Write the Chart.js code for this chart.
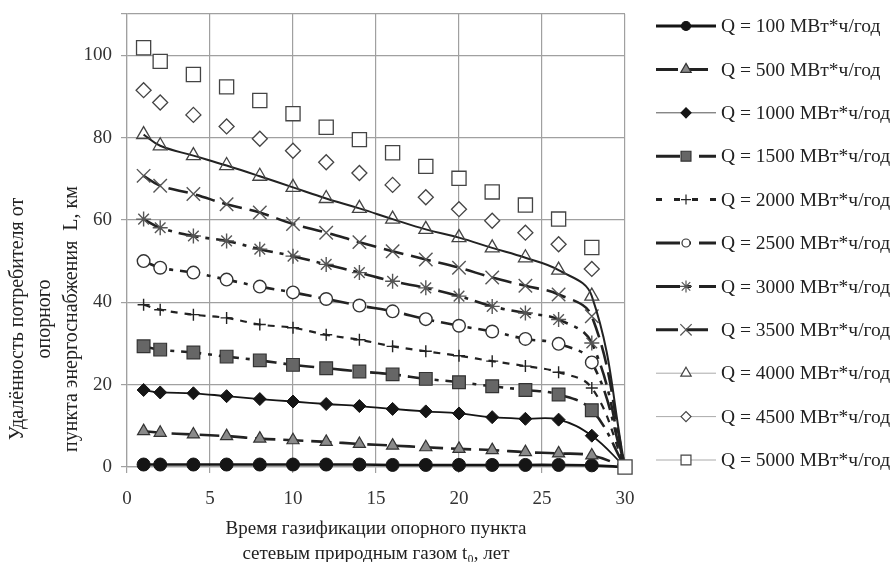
<!DOCTYPE html>
<html><head><meta charset="utf-8">
<script src="https://cdn.jsdelivr.net/npm/chart.js@4.4.1/dist/chart.umd.min.js"></script>
<style>html,body{margin:0;padding:0;background:#fff}#wrap{width:893px;height:562px;position:relative}</style>
</head><body><div id="wrap"><canvas id="c" width="893" height="562"></canvas></div>
<script>
// ---- data ----
const years = [1, 2, 4, 6, 8, 10, 12, 14, 16, 18, 20, 22, 24, 26, 28, 30];
const seriesLabels = ['Q = 100 МВт*ч/год','Q = 500 МВт*ч/год','Q = 1000 МВт*ч/год','Q = 1500 МВт*ч/год','Q = 2000 МВт*ч/год','Q = 2500 МВт*ч/год','Q = 3000 МВт*ч/год','Q = 3500 МВт*ч/год','Q = 4000 МВт*ч/год','Q = 4500 МВт*ч/год','Q = 5000 МВт*ч/год'];
const q100  = [0.6, 0.6, 0.6, 0.6, 0.6, 0.6, 0.6, 0.6, 0.5, 0.5, 0.5, 0.5, 0.5, 0.5, 0.4, 0];
const q500  = [8.7, 8.3, 7.9, 7.5, 6.9, 6.5, 6.1, 5.6, 5.2, 4.8, 4.4, 4.1, 3.6, 3.3, 2.8, 0];
const q1000 = [18.7, 18.1, 17.9, 17.2, 16.5, 15.9, 15.3, 14.8, 14.1, 13.5, 13.0, 12.1, 11.7, 11.5, 7.6, 0];
const q1500 = [29.3, 28.5, 27.8, 26.8, 25.9, 24.8, 24.0, 23.2, 22.5, 21.4, 20.6, 19.6, 18.7, 17.6, 13.8, 0];
const q2000 = [39.4, 38.2, 37.0, 36.2, 34.6, 33.8, 32.1, 30.9, 29.3, 28.1, 27.0, 25.7, 24.5, 23.0, 19.2, 0];
const q2500 = [50.0, 48.4, 47.2, 45.5, 43.8, 42.4, 40.8, 39.2, 37.8, 35.9, 34.3, 32.9, 31.1, 29.9, 25.4, 0];
const q3000 = [60.2, 58.1, 56.1, 54.9, 52.9, 51.2, 49.2, 47.2, 45.1, 43.5, 41.5, 39.0, 37.4, 35.8, 30.1, 0];
const q3500 = [70.7, 68.3, 66.3, 63.8, 61.8, 59.0, 56.9, 54.6, 52.4, 50.4, 48.4, 46.0, 44.0, 41.9, 36.6, 0];
const q4000 = [80.7, 78.0, 75.6, 73.2, 70.6, 67.9, 65.2, 62.8, 60.2, 57.7, 55.7, 53.2, 50.8, 47.8, 41.5, 0];
const q4500 = [91.5, 88.5, 85.5, 82.7, 79.7, 76.8, 74.0, 71.4, 68.5, 65.5, 62.6, 59.8, 56.9, 54.1, 48.1, 0];
const q5000 = [101.8, 98.5, 95.3, 92.3, 89.0, 85.8, 82.5, 79.5, 76.3, 73.0, 70.1, 66.8, 63.6, 60.2, 53.3, 0];
const xTicks = [0, 5, 10, 15, 20, 25, 30];
const yTicks = [0, 20, 40, 60, 80, 100];
const xTitleLines = ['Время газификации опорного пункта', 'сетевым природным газом t₀, лет'];
const yTitleLines = ['Удалённость потребителя от', 'опорного', 'пункта энергоснабжения  L, км'];

// ---- styles ----
const SERIF = "'Liberation Serif', 'Times New Roman', serif";
const styles = [
  {ps:'circle',   r:6.5, lr:4.5, fill:'#151515', stroke:'#151515', pbw:1,   line:'#151515', lw:2.6, dash:[],          llw:3,   lcol:'#151515', ldash:[]},
  {ps:'triangle', r:7,   lr:6,   fill:'#8a8a8a', stroke:'#333',    pbw:1.2, line:'#222',    lw:2.6, dash:[20,8],      llw:3,   lcol:'#222',    ldash:[22,8]},
  {ps:'rectRot',  r:6.5, lr:5,   fill:'#151515', stroke:'#151515', pbw:1,   line:'#151515', lw:1.8, dash:[],          llw:1,   lcol:'#555',    ldash:[]},
  {ps:'rect',     r:9,   lr:7,   fill:'#666',    stroke:'#333',    pbw:1.2, line:'#222',    lw:2.6, dash:[20,7,4,7],  llw:3,   lcol:'#222',    ldash:[24,6,5,8]},
  {ps:'cross',    r:6,   lr:5,   fill:'#fff',    stroke:'#222',    pbw:1.4, line:'#222',    lw:2.2, dash:[7,7],       llw:3,   lcol:'#222',    ldash:[6,12]},
  {ps:'circle',   r:6.3, lr:4,   fill:'#fff',    stroke:'#333',    pbw:1.4, line:'#222',    lw:2.6, dash:[20,7,4,7],  llw:3,   lcol:'#222',    ldash:[24,6,5,8]},
  {ps:'star',     r:7.5, lr:6,   fill:'#fff',    stroke:'#555',    pbw:1.4, line:'#222',    lw:2.6, dash:[20,7,4,7],  llw:3,   lcol:'#222',    ldash:[24,6,5,8]},
  {ps:'crossRot', r:9.5, lr:8,   fill:'#fff',    stroke:'#555',    pbw:1.4, line:'#222',    lw:2.6, dash:[20,8],      llw:3,   lcol:'#222',    ldash:[22,8]},
  {ps:'triangle', r:8,   lr:6,   fill:'rgba(255,255,255,0)', stroke:'#444', pbw:1.3, line:'#222', lw:2, dash:[], llw:1, lcol:'#aaa', ldash:[]},
  {ps:'rectRot',  r:7.5, lr:5,   fill:'#fff',    stroke:'#444',    pbw:1.3, line:'#aaa',    lw:1,   dash:[], noLine:true, llw:1, lcol:'#aaa', ldash:[]},
  {ps:'rect',     r:10,  lr:7,   fill:'#fff',    stroke:'#444',    pbw:1.3, line:'#aaa',    lw:1,   dash:[], noLine:true, llw:1, lcol:'#aaa', ldash:[]}
];
const seriesValues = [q100, q500, q1000, q1500, q2000, q2500, q3000, q3500, q4000, q4500, q5000];
const LAST = years.length - 1;

const datasets = seriesValues.map((vals, i) => {
  const s = styles[i];
  const isTop = i === seriesValues.length - 1;
  return {
    label: seriesLabels[i],
    data: years.map((x, k) => ({x, y: vals[k]})),
    order: seriesValues.length - i,
    showLine: !s.noLine,
    borderColor: s.line,
    borderWidth: s.lw,
    borderDash: s.dash,
    tension: 0.4,
    pointStyle: s.ps,
    pointRadius: ctx => (ctx.dataIndex === LAST && !isTop) ? 0 : s.r,
    pointHoverRadius: s.r,
    pointBackgroundColor: s.fill,
    pointBorderColor: s.stroke,
    pointBorderWidth: s.pbw,
    clip: false,
    fill: false
  };
});

function drawMarker(ctx, style, x, y, r) {
  ctx.beginPath();
  let fillable = true;
  const d = r * Math.SQRT1_2;
  switch (style) {
    case 'circle': ctx.arc(x, y, r, 0, Math.PI * 2); ctx.closePath(); break;
    case 'triangle':
      ctx.moveTo(x, y - r); ctx.lineTo(x + r * 0.866, y + r / 2); ctx.lineTo(x - r * 0.866, y + r / 2); ctx.closePath(); break;
    case 'rect': ctx.rect(x - d, y - d, 2 * d, 2 * d); break;
    case 'rectRot':
      ctx.moveTo(x - r, y); ctx.lineTo(x, y - r); ctx.lineTo(x + r, y); ctx.lineTo(x, y + r); ctx.closePath(); break;
    case 'cross':
      fillable = false; ctx.moveTo(x, y - r); ctx.lineTo(x, y + r); ctx.moveTo(x - r, y); ctx.lineTo(x + r, y); break;
    case 'crossRot':
      fillable = false; ctx.moveTo(x - d, y - d); ctx.lineTo(x + d, y + d); ctx.moveTo(x - d, y + d); ctx.lineTo(x + d, y - d); break;
    case 'star':
      fillable = false; ctx.moveTo(x, y - r); ctx.lineTo(x, y + r); ctx.moveTo(x - r, y); ctx.lineTo(x + r, y);
      ctx.moveTo(x - d, y - d); ctx.lineTo(x + d, y + d); ctx.moveTo(x - d, y + d); ctx.lineTo(x + d, y - d); break;
  }
  if (fillable) ctx.fill();
  ctx.stroke();
}

const customLegend = {
  id: 'customLegend',
  afterDraw(chart) {
    const ctx = chart.ctx;
    const area = chart.chartArea;
    const x0 = area.right + 31, x1 = area.right + 91, xm = area.right + 61, xt = area.right + 96;
    ctx.save();
    chart.data.datasets.forEach((ds, i) => {
      const s = styles[i];
      const y = area.top + 12 + 43.4 * i;
      ctx.setLineDash(s.ldash);
      ctx.lineWidth = s.llw;
      ctx.strokeStyle = s.lcol;
      ctx.beginPath(); ctx.moveTo(x0, y); ctx.lineTo(x1, y); ctx.stroke();
      ctx.setLineDash([]);
      ctx.fillStyle = s.fill === 'rgba(255,255,255,0)' ? '#fff' : s.fill;
      ctx.strokeStyle = s.stroke;
      ctx.lineWidth = 1.2;
      drawMarker(ctx, s.ps, xm, y, s.lr);
      ctx.fillStyle = '#222';
      ctx.font = '19.5px ' + SERIF;
      ctx.textAlign = 'left';
      ctx.textBaseline = 'middle';
      ctx.fillText(ds.label, xt, y + 1);
    });
    ctx.restore();
  }
};

const yTitle = {
  id: 'yTitle',
  afterDraw(chart) {
    const ctx = chart.ctx;
    const area = chart.chartArea;
    const cy = area.bottom - 148;
    ctx.save();
    ctx.fillStyle = '#222';
    ctx.font = '20px ' + SERIF;
    ctx.textAlign = 'center';
    ctx.textBaseline = 'middle';
    yTitleLines.forEach((t, k) => {
      ctx.save();
      ctx.translate(area.left - 109 + 27 * k, cy);
      ctx.rotate(-Math.PI / 2);
      ctx.fillText(t, 0, 0);
      ctx.restore();
    });
    ctx.restore();
  }
};

new Chart(document.getElementById('c'), {
  type: 'line',
  data: { datasets },
  options: {
    responsive: false,
    animation: false,
    devicePixelRatio: 1,
    layout: { padding: { left: 0, right: 268, top: 14, bottom: 0 } },
    plugins: { legend: { display: false }, tooltip: { enabled: false } },
    scales: {
      x: {
        type: 'linear', min: 0, max: 30,
        afterFit: s => { s.height = 95; s.paddingLeft = 0; s.paddingRight = 0; },
        afterBuildTicks: s => { s.ticks = xTicks.map(v => ({value: v})); },
        ticks: { font: { family: SERIF, size: 19 }, color: '#333', padding: 15, maxRotation: 0 },
        grid: { color: '#a0a0a0', lineWidth: 1.2, tickLength: 6 },
        border: { color: '#a0a0a0', width: 1.2 },
        title: { display: true, text: xTitleLines, color: '#222', font: { family: SERIF, size: 19, lineHeight: '25px' }, padding: { top: 0, bottom: -5 } }
      },
      y: {
        type: 'linear', min: 0, max: 110,
        afterFit: s => { s.width = 127; s.paddingTop = 0; s.paddingBottom = 0; },
        afterBuildTicks: s => { s.ticks = yTicks.concat([110]).map(v => ({value: v})); },
        ticks: { font: { family: SERIF, size: 19 }, color: '#333', padding: 9,
          callback: v => yTicks.includes(v) ? String(v) : '' },
        grid: { color: '#a0a0a0', lineWidth: 1.2, tickLength: 6 },
        border: { color: '#a0a0a0', width: 1.2 }
      }
    }
  },
  plugins: [customLegend, yTitle]
});
</script>
</body></html>
